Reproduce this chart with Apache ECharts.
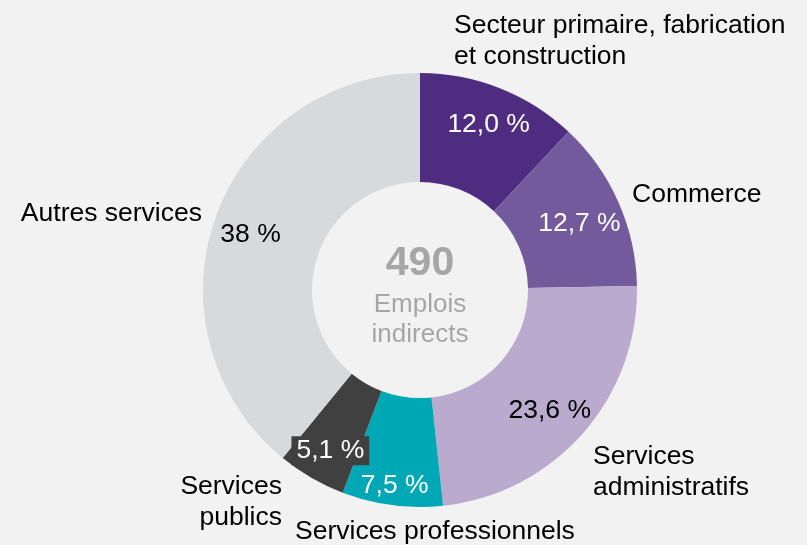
<!DOCTYPE html>
<html><head><meta charset="utf-8">
<script src="https://cdn.jsdelivr.net/npm/echarts@6/dist/echarts.min.js"></script>
<style>html,body{margin:0;padding:0;background:#F2F2F2}#c{width:807px;height:545px}</style>
</head><body><div id="c"></div>
<script>
// Data
const categories = ['Secteur primaire, fabrication\net construction', 'Commerce', 'Services\nadministratifs', 'Services professionnels', 'Services\npublics', 'Autres services'];
// slice shares (the last slice spans ~39 % of the ring although its printed label reads 38 %)
const shares = [12.0, 12.7, 23.6, 7.5, 5.1, 39.1];
const shareLabels = ['12,0 %', '12,7 %', '23,6 %', '7,5 %', '5,1 %', '38 %'];
const totalValue = '490';
const totalCaption = 'Emplois\nindirects';

// Styles
const colors = ['#4E2D80', '#735A9C', '#BAAACE', '#00A8B5', '#404040', '#D8D9DB'];
const shareTextColors = ['#fff', '#fff', '#000', '#fff', '#fff', '#000'];
const FONT = "'Liberation Sans', Arial, sans-serif";
const CX = 420, CY = 290, R0 = 108, R1 = 217;

const namePos = [
  {x: 454, y: 41, align: 'left'},
  {x: 632, y: 195, align: 'left'},
  {x: 593, y: 472, align: 'left'},
  {x: 295, y: 532, align: 'left'},
  {x: 282, y: 502, align: 'right'},
  {x: 202, y: 214, align: 'right'}
];
const shareNudge = [[2, 3], [-6, 7], [-6, 1], [-2, 16], [1, 4], [1, 5]];

const chart = echarts.init(document.getElementById('c'), null, {renderer: 'canvas'});
chart.setOption({
  backgroundColor: '#F2F2F2',
  animation: false,
  series: [
    {
      type: 'pie',
      center: [CX, CY],
      radius: [R0, R1],
      startAngle: 90,
      clockwise: true,
      avoidLabelOverlap: false,
      silent: true,
      itemStyle: {borderWidth: 0},
      label: {
        show: true, position: 'outside', formatter: '{b}',
        fontFamily: FONT, fontSize: 26.5, color: '#000', lineHeight: 31
      },
      labelLine: {show: false},
      labelLayout: function (p) {
        const q = namePos[p.dataIndex];
        return {x: q.x, y: q.y, align: q.align, verticalAlign: 'middle'};
      },
      data: categories.map((c, i) => ({name: c, value: shares[i], itemStyle: {color: colors[i]}}))
    },
    {
      type: 'pie',
      center: [CX, CY],
      radius: [139, R1],
      startAngle: 90,
      clockwise: true,
      avoidLabelOverlap: false,
      silent: true,
      itemStyle: {color: 'rgba(0,0,0,0)', borderWidth: 0},
      label: {
        show: true, position: 'inside',
        fontFamily: FONT, fontSize: 26.5,
        formatter: p => shareLabels[p.dataIndex]
      },
      labelLine: {show: false},
      labelLayout: function (p) {
        const n = shareNudge[p.dataIndex];
        return {dx: n[0], dy: n[1]};
      },
      data: categories.map((c, i) => ({
        name: c, value: shares[i],
        label: i === 4
          ? {color: shareTextColors[i], backgroundColor: '#404040', padding: [1, 5]}
          : {color: shareTextColors[i]}
      }))
    }
  ],
  graphic: [
    {type: 'text', x: CX, y: 264, silent: true,
     style: {text: totalValue, fontFamily: FONT, fontSize: 41, fontWeight: 'bold', fill: '#A6A6A6', align: 'center', verticalAlign: 'middle'}},
    {type: 'text', x: CX, y: 320, silent: true,
     style: {text: totalCaption, fontFamily: FONT, fontSize: 26, lineHeight: 30, fill: '#A6A6A6', align: 'center', verticalAlign: 'middle'}}
  ]
});
</script></body></html>
